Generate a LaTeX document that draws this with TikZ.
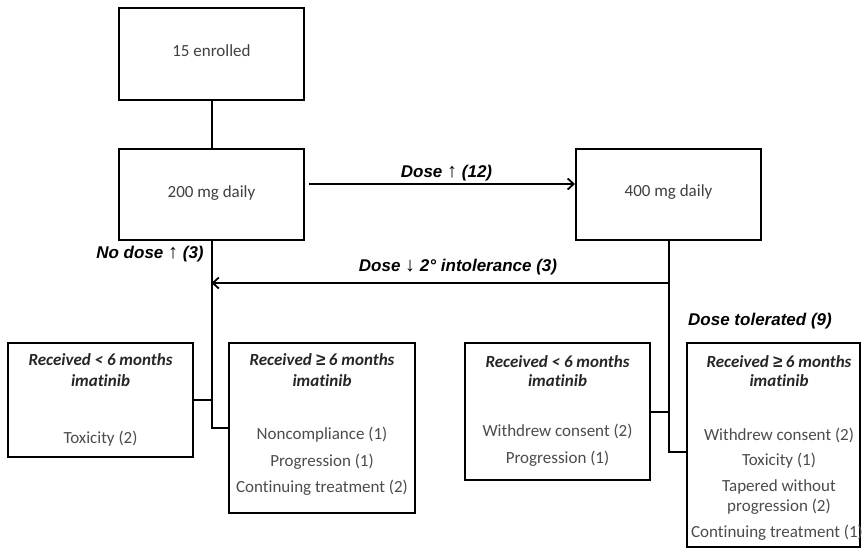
\documentclass[tikz,border=0pt]{standalone}
\usepackage{fontspec}
\setmainfont{Carlito}[Ligatures=NoCommon]
\newfontfamily\arialf{Liberation Sans}
\usetikzlibrary{arrows.meta}
\begin{document}
\begin{tikzpicture}[x=1pt,y=-1pt,
  box/.style={draw, line width=2pt, inner sep=0pt},
  conn/.style={line width=2pt},
  arr/.style={line width=2pt, -{Straight Barb[length=6pt,width=11pt,line width=1.8pt]}},
  hd/.style={font=\fontsize{17}{20}\selectfont\bfseries\itshape, text=black!85, anchor=mid, inner sep=0pt},
  bd/.style={font=\fontsize{17}{20}\selectfont, text=black!70, anchor=mid, inner sep=0pt},
  lb/.style={font=\arialf\fontsize{17}{20}\selectfont\bfseries\itshape, anchor=mid, inner sep=0pt}]
\useasboundingbox[fill=white] (0,0) rectangle (862,557);

% boxes
\node[box, minimum width=185pt, minimum height=92pt] (enr) at (211.5,54) {};
\node[box, minimum width=185pt, minimum height=91pt] (d200) at (211.5,194.5) {};
\node[box, minimum width=185pt, minimum height=91pt] (d400) at (668.5,194.5) {};
\node[box, minimum width=185pt, minimum height=114pt] (b1) at (100.5,400) {};
\node[box, minimum width=186pt, minimum height=170pt] (b2) at (322,428) {};
\node[box, minimum width=185pt, minimum height=137pt] (b3) at (557.5,411.5) {};
\node[box, minimum width=173pt, minimum height=204pt] (b4) at (773.5,445) {};

% box texts
\node[bd, text=black!75] (t1) at (211.5,54) {15 enrolled};
\node[bd, text=black!75] (t2) at (211.5,195) {200 mg daily};
\node[bd, text=black!75] (t3) at (668.5,194) {400 mg daily};

\node[hd] (h1a) at (100.5,363) {Received < 6 months};
\node[hd] (h1b) at (100.5,384) {imatinib};
\node[bd] (c1a) at (100.5,441) {Toxicity (2)};

\node[hd] (h2a) at (322,363) {Received {\arialf ≥} 6 months};
\node[hd] (h2b) at (322,384) {imatinib};
\node[bd] (c2a) at (322,437) {Noncompliance (1)};
\node[bd] (c2b) at (322,464) {Progression (1)};
\node[bd] (c2c) at (322,490) {Continuing treatment (2)};

\node[hd] (h3a) at (557.5,365) {Received < 6 months};
\node[hd] (h3b) at (557.5,384) {imatinib};
\node[bd] (c3a) at (557.5,434) {Withdrew consent (2)};
\node[bd] (c3b) at (557.5,461) {Progression (1)};

\node[hd] (h4a) at (779,365) {Received {\arialf ≥} 6 months};
\node[hd] (h4b) at (779,384) {imatinib};
\node[bd] (c4a) at (779,438) {Withdrew consent (2)};
\node[bd] (c4b) at (779,463) {Toxicity (1)};
\node[bd] (c4c) at (779,489) {Tapered without};
\node[bd] (c4d) at (779,509) {progression (2)};
\node[bd] (c4e) at (777,535) {Continuing treatment (1)};

% labels
\node[lb] (l1) at (446.5,175) {Dose {\mdseries\fontsize{20}{20}\selectfont ↑} (12)};
\node[lb] (l2) at (150,256) {No dose {\mdseries\fontsize{20}{20}\selectfont ↑} (3)};
\node[lb] (l3) at (458,269) {Dose {\mdseries\fontsize{20}{20}\selectfont ↓} 2° intolerance (3)};
\node[lb] (l4) at (760,323) {Dose tolerated (9)};

% connectors
\draw[conn] (enr.south) -- (d200.north);
\draw[arr] ([xshift=4pt,yshift=10.5pt]d200.east) -- ([yshift=10.5pt]d400.west);
\coordinate (rj) at (d400.south |- 0,283);
\coordinate (lj) at (d200.south |- 0,283);
\draw[arr] (rj) -- (lj);
\draw[conn] (d200.south) |- (b2.west);
\draw[conn] (b1.east) -- (b1.east -| d200.south);
\draw[conn] (d400.south) |- ([yshift=-7pt]b4.west);
\draw[conn] (b3.east) -- (b3.east -| d400.south);
\end{tikzpicture}
\end{document}
